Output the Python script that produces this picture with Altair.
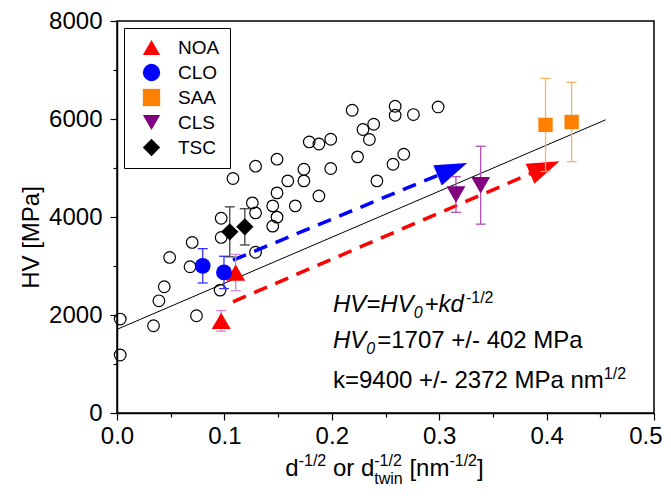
import math
import altair as alt
import pandas as pd

# ---------------- data ----------------
# open circles: literature Hall-Petch data
hp_x = [0.003, 0.003, 0.034, 0.074, 0.039, 0.044, 0.049, 0.068, 0.070, 0.096,
        0.097, 0.097, 0.129, 0.108, 0.129, 0.149, 0.159, 0.174, 0.174, 0.188,
        0.149, 0.145, 0.166, 0.126, 0.129, 0.149, 0.145, 0.179, 0.188, 0.199,
        0.219, 0.259, 0.259, 0.276, 0.299, 0.229, 0.239, 0.235, 0.224, 0.199,
        0.257, 0.267, 0.242]
hp_y = [1917, 1183, 1780, 1984, 2290, 2576, 3175, 2984, 3481, 2508,
        3583, 3975, 3280, 4786, 5037, 5180, 4737, 4975, 4737, 4430,
        4492, 4227, 4227, 4288, 4084, 3997, 3813, 5532, 5490, 5587,
        6179, 6260, 6077, 6091, 6246, 5785, 5893, 5581, 5227, 4990,
        5077, 5281, 4737]

series_names = ["NOA", "CLO", "SAA", "CLS", "TSC"]
noa_x = [0.097, 0.1105]; noa_y = [1880, 2865]; noa_err = [210, 370]
clo_x = [0.0798, 0.0996]; clo_y = [3004, 2869]; clo_err = [350, 330]
saa_x = [0.399, 0.4233]; saa_y = [5880, 5940]; saa_err = [950, 810]
cls_x = [0.3156, 0.3386]; cls_y = [4460, 4649]; cls_err = [365, 795]
tsc_x = [0.105, 0.119]; tsc_y = [3697, 3799]; tsc_err = [510, 370]

fit_x = [0.0, 0.455]
fit_y = [1707, 5984]

blue_arrow_x = [0.108, 0.326]; blue_arrow_y = [3120, 5100]
red_arrow_x = [0.108, 0.412]; red_arrow_y = [2270, 5140]

x_ticks = [0.0, 0.05, 0.1, 0.15, 0.2, 0.25, 0.3, 0.35, 0.4, 0.45, 0.5]
y_ticks = [0, 1000, 2000, 3000, 4000, 5000, 6000, 7000, 8000]

# ---------------- styles ----------------
FONT = "Liberation Sans"
W, H = 537, 392
XD = [0.0, 0.5]
YD = [0, 8000]

marker_color = ["#ff0000", "#0000ff", "#ff8000", "#800080", "#000000"]
marker_shape = ["triangle-up", "circle", "square", "triangle-down", "diamond"]
marker_size = {"NOA": 360, "CLO": 250, "SAA": 205, "CLS": 360, "TSC": 300}
err_color = {"NOA": "#cc88dd", "CLO": "#3333ff", "SAA": "#ffb060",
             "CLS": "#b050b8", "TSC": "#404040"}

xs = alt.Scale(domain=XD, nice=False, zero=False)
ys = alt.Scale(domain=YD, nice=False, zero=False)

x_axis = alt.Axis(
    values=x_ticks, title=None, grid=False,
    labelExpr="(round(datum.value*20) % 2 == 0) ? format(datum.value, '.1f') : ''",
    labelOverlap=False, labelFlush=False,
    labelAlign={"condition": {"test": "datum.value > 0.49", "value": "right"}, "value": "center"},
    labelOffset={"condition": {"test": "datum.value > 0.49", "value": 8}, "value": 0},
    labelFont=FONT, labelFontSize=24, labelColor="black", labelPadding=4,
    tickColor="black", tickWidth=1.2,
    tickSize={"condition": {"test": "round(datum.value*20) % 2 == 0", "value": 7}, "value": 4},
    domainColor="black", domainWidth=1.5,
)
y_axis = alt.Axis(
    values=y_ticks, title="HV [MPa]", grid=False,
    labelExpr="(round(datum.value/1000) % 2 == 0) ? format(datum.value, 'd') : ''",
    labelOverlap=False, labelFlush=False,
    labelFont=FONT, labelFontSize=24, labelColor="black", labelPadding=8,
    tickColor="black", tickWidth=1.2,
    tickSize={"condition": {"test": "round(datum.value/1000) % 2 == 0", "value": 7}, "value": 4},
    domainColor="black", domainWidth=1.5,
    titleFont=FONT, titleFontSize=24, titleFontWeight="normal", titleColor="black",
    titleAngle=270, titleX=-86, titleY=216, titleAlign="center", titleBaseline="middle",
)


def X(field="x"):
    return alt.X(f"{field}:Q", scale=xs, axis=x_axis)


def Y(field="y"):
    return alt.Y(f"{field}:Q", scale=ys, axis=y_axis)


layers = []

# open circles
hp_df = pd.DataFrame({"x": hp_x, "y": hp_y})
layers.append(
    alt.Chart(hp_df).mark_point(shape="circle", filled=False, color="black",
                                strokeWidth=1.2, size=135, opacity=1)
    .encode(x=X(), y=Y())
)

# fit line
fit_df = pd.DataFrame({"x": fit_x, "y": fit_y})
layers.append(
    alt.Chart(fit_df).mark_line(color="black", strokeWidth=1).encode(x=X(), y=Y())
)

# dashed arrows
HEAD_LEN = 32


def arrow(xv, yv, col):
    x0, x1 = xv
    y0, y1 = yv
    dxp = (x1 - x0) / (XD[1] - XD[0]) * W
    dyp = -(y1 - y0) / (YD[1] - YD[0]) * H
    L = math.hypot(dxp, dyp)
    ux, uy = dxp / L, dyp / L
    ang = math.degrees(math.atan2(dyp, dxp)) % 360
    shift = 0.8 * HEAD_LEN
    xe = x1 - ux * shift * (XD[1] - XD[0]) / W
    ye = y1 + uy * shift * (YD[1] - YD[0]) / H
    line_df = pd.DataFrame({"x": [x0, xe], "y": [y0, ye]})
    ln = alt.Chart(line_df).mark_line(color=col, strokeWidth=3.5,
                                      strokeDash=[14, 9], strokeCap="butt").encode(x=X(), y=Y())
    head_df = pd.DataFrame({"x": [x1], "y": [y1]})
    hd = alt.Chart(head_df).mark_point(shape="M0,0L-2,-0.68L-2,0.68Z", filled=True,
                                       color=col, opacity=1, size=HEAD_LEN ** 2,
                                       angle=ang, strokeWidth=0).encode(x=X(), y=Y())
    return [ln, hd]


layers += arrow(blue_arrow_x, blue_arrow_y, "#0000ff")
layers += arrow(red_arrow_x, red_arrow_y, "#ff0000")

# series table
rows = []
for name, xv, yv, ev in [("NOA", noa_x, noa_y, noa_err), ("CLO", clo_x, clo_y, clo_err),
                         ("SAA", saa_x, saa_y, saa_err), ("CLS", cls_x, cls_y, cls_err),
                         ("TSC", tsc_x, tsc_y, tsc_err)]:
    for a, b, e in zip(xv, yv, ev):
        rows.append({"series": name, "x": a, "y": b, "lo": b - e, "hi": b + e,
                     "msize": marker_size[name]})
ser_df = pd.DataFrame(rows)

# error bars (per series colour)
for name in series_names:
    d = ser_df[ser_df.series == name]
    c = err_color[name]
    layers.append(
        alt.Chart(d).mark_rule(color=c, strokeWidth=1.3)
        .encode(x=X(), y=Y("lo"), y2=alt.Y2("hi:Q"))
    )
    for f in ["lo", "hi"]:
        layers.append(
            alt.Chart(d).mark_tick(color=c, orient="horizontal", size=10,
                                   thickness=1.3, opacity=1)
            .encode(x=X(), y=Y(f))
        )

# markers with legend
leg = alt.Legend(orient="none", legendX=7, legendY=7, title=None,
                 strokeColor="black", fillColor="white", padding=10,
                 labelFont=FONT, labelFontSize=19, labelColor="black",
                 symbolSize=300, symbolOffset=8, labelOffset=17, rowPadding=5,
                 symbolStrokeWidth=0, symbolOpacity=1)
layers.append(
    alt.Chart(ser_df).mark_point(filled=True, opacity=1, strokeWidth=0)
    .encode(
        x=X(), y=Y(),
        color=alt.Color("series:N", scale=alt.Scale(domain=series_names, range=marker_color),
                        legend=leg, title=None, sort=series_names),
        shape=alt.Shape("series:N", scale=alt.Scale(domain=series_names, range=marker_shape),
                        legend=leg, title=None, sort=series_names),
        size=alt.Size("msize:Q", scale=None),
    )
)

# ---------------- annotation text ----------------
AW = {'H': .722, 'V': .667, '=': .584, '+': .584, 'k': .5, 'd': .556, ' ': .278,
      '/': .278, '-': .333, 'M': .833, 'P': .667, 'a': .556, 'n': .556, 'm': .833,
      'o': .556, 'r': .333, '[': .278, ']': .278, 't': .278, 'w': .722, 'i': .222}
for ch in "0123456789":
    AW[ch] = .556


def tw(s, size):
    return sum(AW.get(ch, .556) for ch in s) * size


ann_x = 0.2011
line_y = [2066, 1325, 510]
BIG, SMALL = 24, 16


def txt_data(xv, yv, s, size, dx=0.0, dy=0.0, italic=False):
    df = pd.DataFrame({"x": [xv], "y": [yv]})
    return alt.Chart(df).mark_text(text=s, font=FONT, fontSize=size, align="left",
                                   baseline="alphabetic", color="black",
                                   fontStyle="italic" if italic else "normal",
                                   dx=dx, dy=dy).encode(x=X(), y=Y())


# line 1: HV=HV0+kd^-1/2
p = 0.0
layers.append(txt_data(ann_x, line_y[0], "HV=HV", BIG, p, 0, True)); p += tw("HV=HV", BIG)
layers.append(txt_data(ann_x, line_y[0], "0", SMALL, p, 6, True)); p += tw("0", SMALL) + 2
layers.append(txt_data(ann_x, line_y[0], "+kd", BIG, p, 0, True)); p += tw("+kd", BIG) + 2
layers.append(txt_data(ann_x, line_y[0], "-1/2", SMALL, p, -9, False))
# line 2
p = 0.0
layers.append(txt_data(ann_x, line_y[1], "HV", BIG, p, 0, True)); p += tw("HV", BIG)
layers.append(txt_data(ann_x, line_y[1], "0", SMALL, p, 6, True)); p += tw("0", SMALL) + 2
layers.append(txt_data(ann_x, line_y[1], "=1707 +/- 402 MPa", BIG, p, 0, False))
# line 3
s3 = "k=9400 +/- 2372 MPa nm"
layers.append(txt_data(ann_x, line_y[2], s3, BIG, 0, 0, False))
layers.append(txt_data(ann_x, line_y[2], "1/2", SMALL, tw(s3, BIG), -9, False))

# ---------------- x-axis title composed of pieces ----------------
dummy = pd.DataFrame({"a": [0]})


def txt_px(px, py, s, size):
    return alt.Chart(dummy).mark_text(text=s, font=FONT, fontSize=size, align="left",
                                      baseline="alphabetic", color="black").encode(
        x=alt.value(px), y=alt.value(py))


TB = 455  # baseline of the x title, relative to the plot's top
SP = tw(" ", BIG)
# (text, kind, subscript, space_before)
pieces = [("d", "big", None, 0), ("-1/2", "sup", None, 0), ("or", "big", None, SP),
          ("d", "big", None, SP), ("-1/2", "sup", "twin", 0), ("[nm", "big", None, SP),
          ("-1/2", "sup", None, 0), ("]", "big", None, 0)]


def piece_w(s, kind, sub):
    if kind == "sup":
        return max(tw(s, SMALL), tw(sub, SMALL) if sub else 0)
    return tw(s, BIG)


total = sum(sp + piece_w(s, k, sub) for s, k, sub, sp in pieces)
cx = 267.5
p = cx - total / 2
for s, kind, sub, sp in pieces:
    p += sp
    if kind == "sup":
        layers.append(txt_px(p, TB - 10, s, SMALL))
        if sub:
            layers.append(txt_px(p, TB + 8, sub, SMALL))
    else:
        layers.append(txt_px(p, TB, s, BIG))
    p += piece_w(s, kind, sub)

chart = alt.layer(*layers).properties(
    width=W, height=H,
    autosize=alt.AutoSizeParams(type="none"),
    padding={"left": 109, "top": 13, "right": 9, "bottom": 75},
).configure_view(stroke="black", strokeWidth=1.5)

chart.save("out.html", embed_options={"renderer": "svg", "actions": False})
